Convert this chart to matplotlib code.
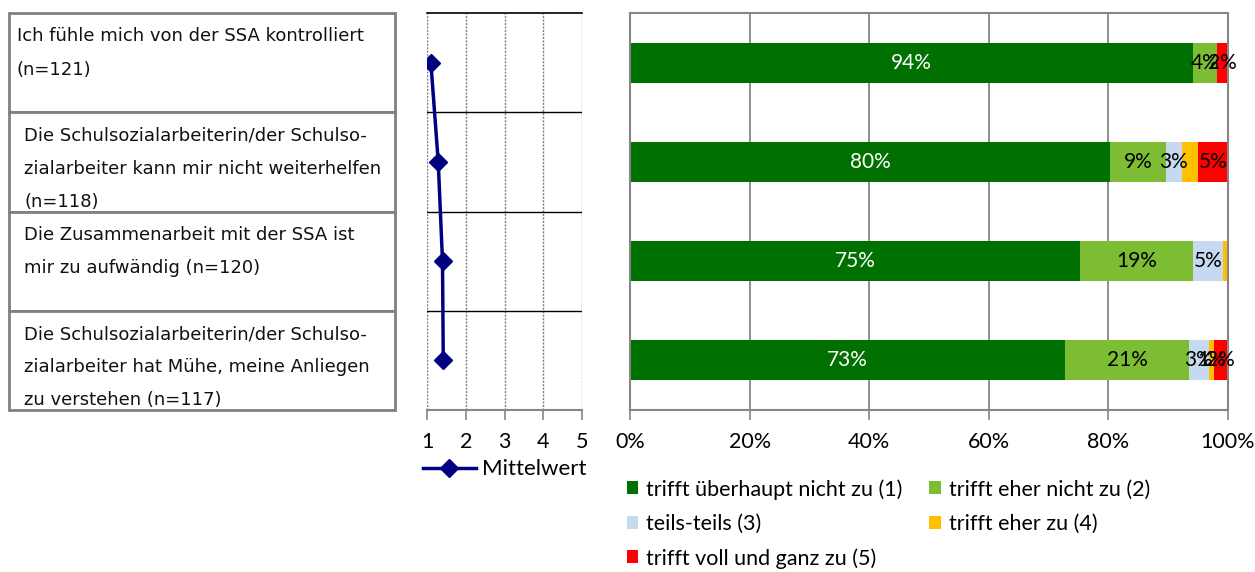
import numpy as np
import matplotlib.pyplot as plt
from matplotlib.patches import Rectangle

# statements (table on the left)
statements = [
    "Ich fühle mich von der SSA kontrolliert\n(n=121)",
    "Die Schulsozialarbeiterin/der Schulso-\nzialarbeiter kann mir nicht weiterhelfen\n(n=118)",
    "Die Zusammenarbeit mit der SSA ist\nmir zu aufwändig (n=120)",
    "Die Schulsozialarbeiterin/der Schulso-\nzialarbeiter hat Mühe, meine Anliegen\nzu verstehen (n=117)",
]

# mean values (scale 1-5)
means = [1.10, 1.29, 1.40, 1.42]

# answer shares in percent per statement
categories = ["trifft überhaupt nicht zu (1)", "trifft eher nicht zu (2)", "teils-teils (3)",
              "trifft eher zu (4)", "trifft voll und ganz zu (5)"]
share_1 = [94.2, 80.3, 75.3, 72.7]
share_2 = [4.0, 9.3, 18.9, 20.8]
share_3 = [0.0, 2.7, 5.0, 3.3]
share_4 = [0.0, 2.6, 0.8, 0.8]
share_5 = [1.8, 5.1, 0.0, 2.4]
# labels that the original chart does not show (row, category)
hidden_labels = [(1, 3), (2, 3)]

colors = ["#007000", "#7dbd34", "#c6d9f0", "#ffc000", "#ff0000"]
mean_ticks = [1, 2, 3, 4, 5]
pct_ticks = [0, 20, 40, 60, 80, 100]

W, H = 1255, 572
fig = plt.figure(figsize=(W / 100, H / 100), dpi=100)


def px_axes(x0, y0, x1, y1):
    return fig.add_axes([x0 / W, 1 - y1 / H, (x1 - x0) / W, (y1 - y0) / H])


grey = "#868686"
chart_font = "Lato"
n = len(statements)

# ---- table with statements ----
ax_t = px_axes(9, 13, 395, 410)
ax_t.set_xlim(0, 1)
ax_t.set_ylim(n, 0)
ax_t.axis("off")
for i, text in enumerate(statements):
    ax_t.add_patch(Rectangle((0, i), 1, 1, facecolor="white", edgecolor="#808080", lw=2, clip_on=False))
    x_pad = 8 if i == 0 else 15
    ax_t.text(x_pad / 386, i + 0.145, text, ha="left", va="top", fontsize=13,
              family="DejaVu Sans", color="#111111", linespacing=2.08)

# ---- mean chart ----
ax_m = px_axes(427, 13, 582, 410)
ypos = np.arange(n) + 0.5
ax_m.plot(means, ypos, color="#000080", lw=2.5, marker="D", markersize=9, label="Mittelwert")
ax_m.set_xlim(1, 5)
ax_m.set_ylim(n, 0)
for x in mean_ticks:
    ax_m.axvline(x, color="#7f7f7f", lw=1, ls=(0, (1.5, 1)), zorder=0)
for y in range(1, n):
    ax_m.axhline(y, color="black", lw=1, zorder=0)
for s in ["left", "right"]:
    ax_m.spines[s].set_visible(False)
ax_m.spines["top"].set_color("black")
ax_m.spines["top"].set_linewidth(1.2)
ax_m.spines["bottom"].set_color(grey)
ax_m.spines["bottom"].set_linewidth(1.5)
ax_m.set_yticks([])
ax_m.set_xticks(mean_ticks)
ax_m.tick_params(axis="x", direction="out", length=7, width=1.2, color=grey, pad=9, labelsize=15.5)
for lbl in ax_m.get_xticklabels():
    lbl.set_family(chart_font)
ax_m.legend(loc="upper center", bbox_to_anchor=(0.5, -0.102), frameon=False, handlelength=2.4,
            handletextpad=0.25, borderaxespad=0, prop={"family": chart_font, "size": 16})

# ---- stacked bar chart ----
ax_b = px_axes(630, 13, 1228, 410)
shares = np.array([share_1, share_2, share_3, share_4, share_5]) / 100
left = np.zeros(n)
for k in range(len(categories)):
    vals = shares[k]
    ax_b.barh(ypos, vals, left=left, height=0.405, color=colors[k], label=categories[k], zorder=2)
    for i in range(n):
        if vals[i] <= 0 or (i, k) in hidden_labels:
            continue
        ax_b.text(left[i] + vals[i] / 2, ypos[i], f"{vals[i] * 100:.0f}%", ha="center", va="center",
                  fontsize=15, family=chart_font, color="white" if k == 0 else "black", zorder=3)
    left += vals
ax_b.set_xlim(0, 1)
ax_b.set_ylim(n, 0)
ax_b.set_yticks([])
ax_b.set_xticks([t / 100 for t in pct_ticks])
ax_b.set_xticklabels([f"{t}%" for t in pct_ticks])
ax_b.xaxis.grid(True, color=grey, lw=1.3, zorder=0)
ax_b.set_axisbelow(True)
for s in ax_b.spines.values():
    s.set_color(grey)
    s.set_linewidth(1.5)
ax_b.tick_params(axis="x", direction="out", length=7, width=1.2, color=grey, pad=9, labelsize=15.5)
for lbl in ax_b.get_xticklabels():
    lbl.set_family(chart_font)

handles, labels = ax_b.get_legend_handles_labels()
order = [0, 2, 4, 1, 3]
ax_b.legend([handles[i] for i in order], [labels[i] for i in order], ncol=2,
            loc="upper left", bbox_to_anchor=(-0.02, -0.152), frameon=False,
            handlelength=0.55, handleheight=0.55, handletextpad=0.35, columnspacing=1.25,
            labelspacing=0.66, borderaxespad=0, prop={"family": chart_font, "size": 15.5})

fig.savefig("out.png", dpi=100)
